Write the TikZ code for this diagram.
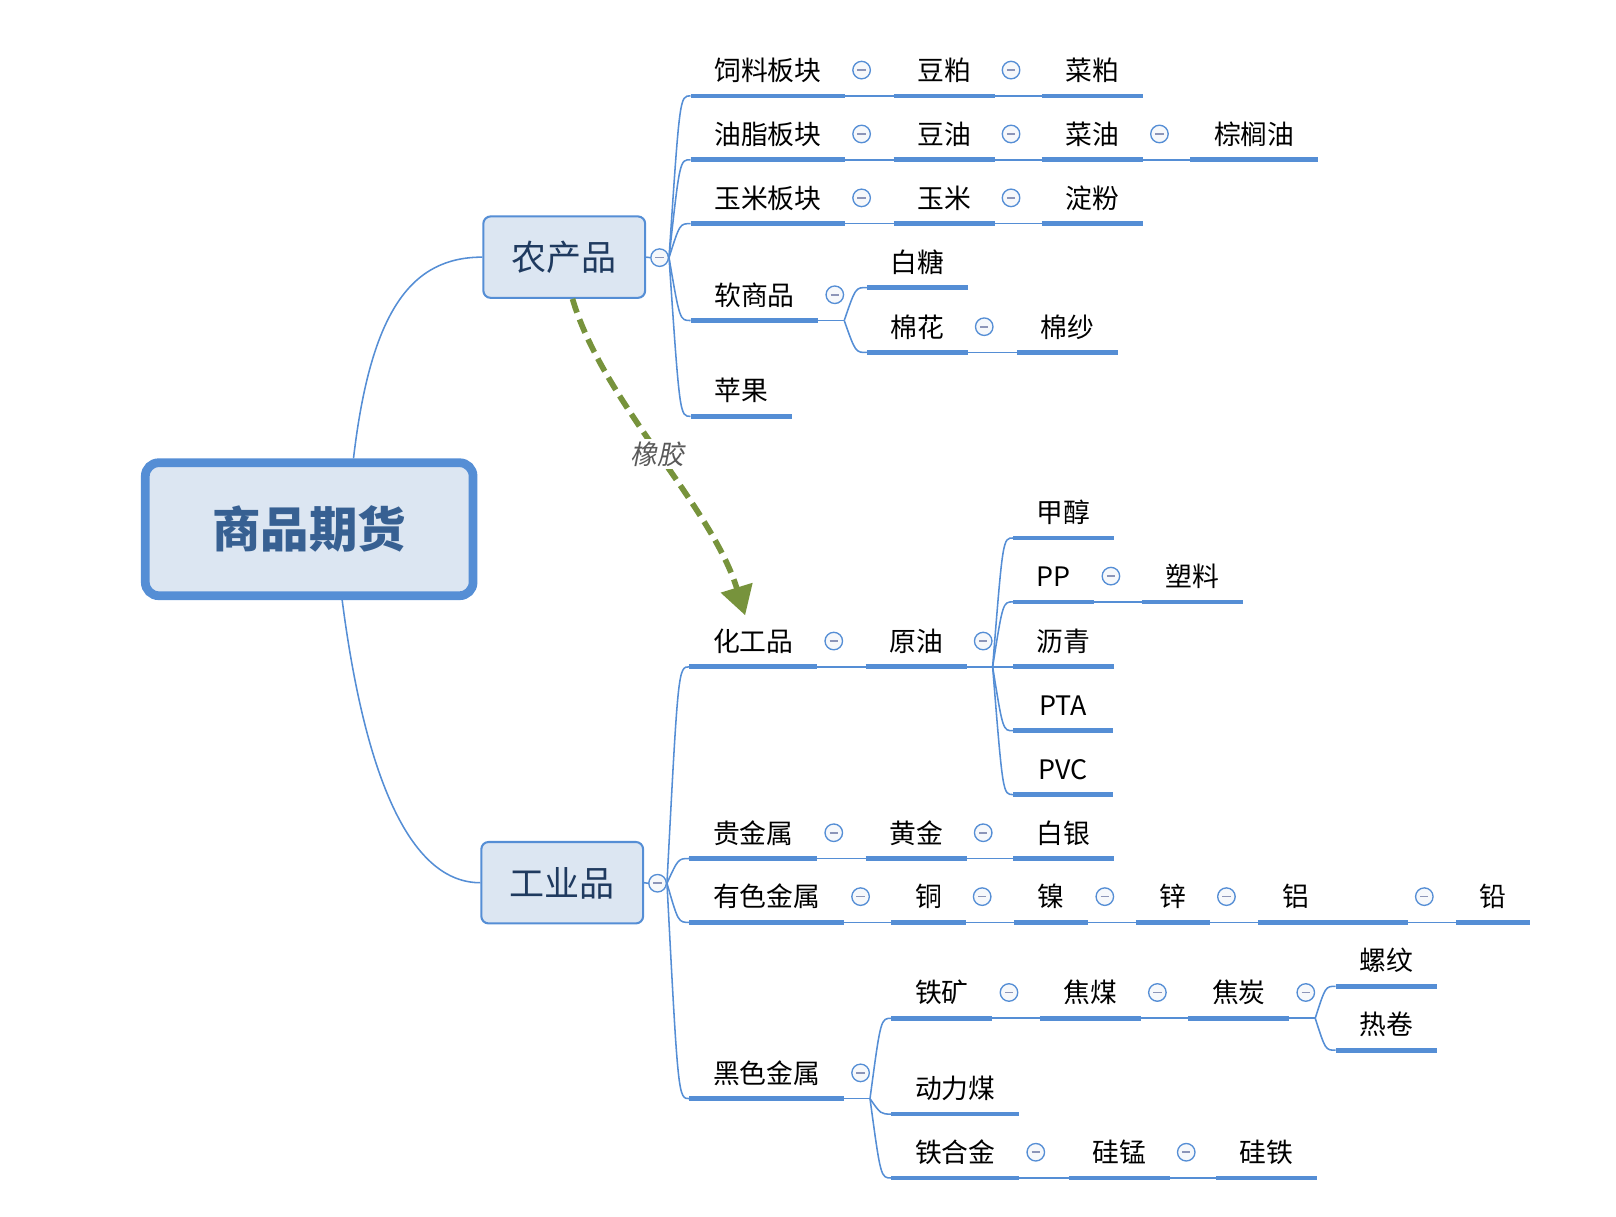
\documentclass[tikz,border=0pt]{standalone}
\usepackage{fontspec}
\setmainfont{Noto Sans CJK SC}
\newfontfamily\slantcjk[FakeSlant=0.2]{Noto Sans CJK SC}
\usetikzlibrary{arrows.meta,calc}

\definecolor{lineblue}{HTML}{558ED5}
\definecolor{boxfill}{HTML}{DCE6F2}
\definecolor{roottext}{HTML}{376092}
\definecolor{boxtext}{HTML}{1F3A5F}
\definecolor{rubbergreen}{HTML}{77933C}
\definecolor{labelgray}{HTML}{595959}
\definecolor{foldfill}{HTML}{F6F8FB}
\definecolor{foldminus}{HTML}{8C95B8}

\tikzset{
  uline/.style={draw=lineblue, line width=4.5pt},
  branch/.style={draw=lineblue, line width=1.5pt},
  topic/.style={font=\fontsize{26}{30}\selectfont, text height=23pt, text depth=3pt,
    inner xsep=23pt, inner ysep=12pt, outer sep=0pt, anchor=south west,
    append after command={(\tikzlastnode.south west) edge[uline] (\tikzlastnode.south east)}},
  fold/.style={circle, draw=lineblue, line width=1.3pt, fill=foldfill, minimum size=17pt, inner sep=0pt,
    path picture={\draw[foldminus, line width=1.6pt] ([xshift=-4pt]path picture bounding box.center) -- ([xshift=4pt]path picture bounding box.center);}},
  mainbox/.style={draw=lineblue, line width=2pt, fill=boxfill, rounded corners=7pt,
    minimum width=157pt, minimum height=79pt, text=boxtext,
    font=\fontsize{34}{40}\selectfont, text height=30pt, text depth=4pt},
  rootbox/.style={draw=lineblue, line width=8.5pt, fill=boxfill, rounded corners=13pt,
    minimum width=318pt, minimum height=129pt, text=roottext,
    font=\bfseries\fontsize{47}{52}\selectfont, text height=41pt, text depth=6pt},
  rubber/.style={draw=rubbergreen, line width=5.5pt, dash pattern=on 14pt off 7pt,
    -{Triangle[width=31pt,length=28pt]}}
}

\begin{document}
\begin{tikzpicture}[x=1pt,y=-1pt]
  \useasboundingbox (0,0) rectangle (1568,1180);

  % central topic and main branches
  \node[rootbox] (root) at (300,513.5) {商品期货};
  \node[mainbox] (agri) at (547.5,249.5) {农产品};
  \node[mainbox] (indu) at (545.5,856.5) {工业品};
  \node[fold] (agri-f) at (640,250) {};
  \node[fold] (indu-f) at (638,857) {};

  \draw[branch] ([xshift=43pt]root.north) .. controls +(17,-145) and +(-68,0) .. (agri.west);
  \draw[branch] ([xshift=32pt]root.south) .. controls +(23,178) and +(-66,0) .. (indu.west);
  \draw[branch] (agri.east) -- (agri-f.west);
  \draw[branch] (indu.east) -- (indu-f.west);

  % agricultural products
  \node[topic] (feed) at (670,93) {饲料板块};
  \node[topic] (soymeal) at (867,93) {豆粕};
  \node[topic] (rapemeal) at (1011,93) {菜粕};
  \node[topic] (oilfat) at (670,155) {油脂板块};
  \node[topic] (soyoil) at (867,155) {豆油};
  \node[topic] (rapeoil) at (1011,155) {菜油};
  \node[topic] (palm) at (1155,155) {棕榈油};
  \node[topic] (cornsec) at (670,217) {玉米板块};
  \node[topic] (corn) at (867,217) {玉米};
  \node[topic] (starch) at (1011,217) {淀粉};
  \node[topic] (soft) at (670,311) {软商品};
  \node[topic] (sugar) at (841,279) {白糖};
  \node[topic] (cotton) at (841,342) {棉花};
  \node[topic] (yarn) at (987,342) {棉纱};
  \node[topic] (apple) at (670,404) {苹果};

  % industrial products
  \node[topic] (chem) at (669,647) {化工品};
  \node[topic] (crude) at (840,647) {原油};
  \node[topic] (methanol) at (983,522) {甲醇};
  \node[topic] (pp) at (983,584) {PP};
  \node[topic] (plastic) at (1108,584) {塑料};
  \node[topic] (asphalt) at (983,647) {沥青};
  \node[topic, minimum width=97pt] (pta) at (983,709) {PTA};
  \node[topic, minimum width=97pt] (pvc) at (983,771) {PVC};
  \node[topic] (precious) at (669,833) {贵金属};
  \node[topic] (gold) at (840,833) {黄金};
  \node[topic] (silver) at (983,833) {白银};
  \node[topic] (nonfer) at (669,895) {有色金属};
  \node[topic] (copper) at (865,895) {铜};
  \node[topic] (nickel) at (984,895) {镍};
  \node[topic] (zinc) at (1102,895) {锌};
  \node[topic, text width=99pt, align=left] (alu) at (1221,895) {铝};
  \node[topic] (lead) at (1413,895) {铅};
  \node[topic] (ferrous) at (669,1066) {黑色金属};
  \node[topic] (ore) at (865,988) {铁矿};
  \node[topic] (cokcoal) at (1009,988) {焦煤};
  \node[topic] (coke) at (1153,988) {焦炭};
  \node[topic] (rebar) at (1296,957) {螺纹};
  \node[topic] (hrc) at (1296,1019) {热卷};
  \node[topic] (thermal) at (865,1081) {动力煤};
  \node[topic] (alloy) at (865,1143) {铁合金};
  \node[topic] (simn) at (1037,1143) {硅锰};
  \node[topic] (sife) at (1180,1143) {硅铁};

  % collapse buttons
  \foreach \n in {feed,soymeal,oilfat,soyoil,rapeoil,cornsec,corn,soft,cotton,
                  chem,crude,pp,precious,gold,nonfer,copper,nickel,zinc,alu,
                  ferrous,ore,cokcoal,coke,alloy,simn}
    \node[fold] (\n-f) at ([xshift=16pt,yshift=25pt]\n.south east) {};

  % straight links
  \foreach \a/\b in {feed/soymeal,soymeal/rapemeal,oilfat/soyoil,soyoil/rapeoil,rapeoil/palm,
                     cornsec/corn,corn/starch,cotton/yarn,chem/crude,pp/plastic,
                     precious/gold,gold/silver,nonfer/copper,copper/nickel,nickel/zinc,
                     zinc/alu,alu/lead,ore/cokcoal,cokcoal/coke,alloy/simn,simn/sife}
    \draw[branch] (\a.south east) -- (\b.south west);

  % forks
  \coordinate (agri-j) at (agri-f.east);
  \coordinate (indu-j) at (indu-f.east);
  \foreach \p in {soft,crude,ferrous,coke} {
    \coordinate (\p-j) at (\p-f.east |- \p.south);
    \draw[branch] (\p.south east) -- (\p-j);
  }
  \foreach \p/\c in {agri/feed,agri/oilfat,agri/cornsec,agri/soft,agri/apple,
                     soft/sugar,soft/cotton,
                     indu/chem,indu/precious,indu/nonfer,indu/ferrous,
                     crude/methanol,crude/pp,crude/asphalt,crude/pta,crude/pvc,
                     ferrous/ore,ferrous/thermal,ferrous/alloy,
                     coke/rebar,coke/hrc} {
    \coordinate (corner) at (\p-j |- \c.south west);
    \draw[branch] (\p-j) .. controls ($(corner)!0.5!(\c.south west)$) .. (\c.south west);
  }

  % relation
  \draw[rubber] ([xshift=8pt]agri.south) .. controls +(29,99) and +(-33,-107) .. ([xshift=-8pt]chem.north)
    node[pos=0.5, fill=white, inner sep=2pt, text=labelgray, font=\slantcjk\fontsize{26}{28}\selectfont] (rubberlbl) {橡胶};

\end{tikzpicture}
\end{document}
